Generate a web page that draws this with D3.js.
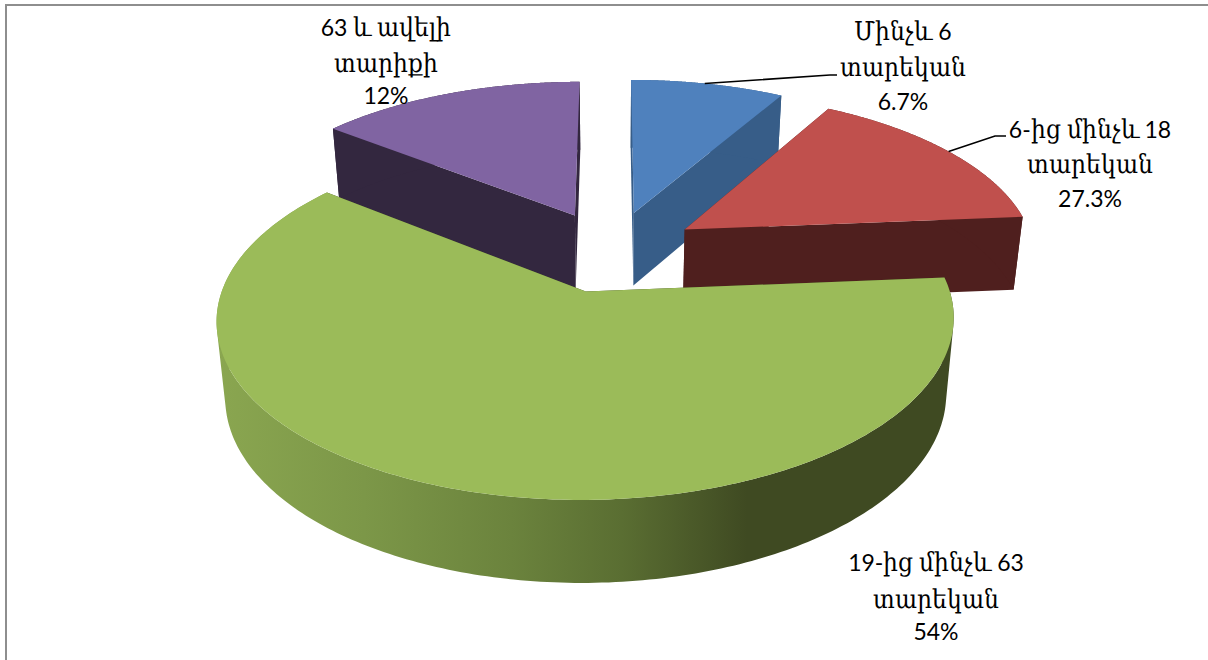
<!DOCTYPE html>
<html><head><meta charset="utf-8">
<script src="https://cdn.jsdelivr.net/npm/d3@7/dist/d3.min.js"></script>
<style>
@font-face{font-family:Arm;src:local("DejaVu Serif Condensed"),local("DejaVuSerifCondensed"),local("DejaVu Serif");unicode-range:U+0530-058F;size-adjust:112%}
html,body{margin:0;padding:0;background:#fff}svg{display:block}
text{font-family:Arm,"Lato","DejaVu Serif",serif;font-size:23px;fill:#000;text-anchor:middle}</style>
</head><body><svg id="c" width="1208" height="660"></svg>
<script>
const categories = ["Մինչև 6 տարեկան","6-ից մինչև 18 տարեկան","19-ից մինչև 63 տարեկան","63 և ավելի տարիքի"];
const labelLines = [["Մինչև 6","տարեկան","6.7%"],["6-ից մինչև 18","տարեկան","27.3%"],["19-ից մինչև 63","տարեկան","54%"],["63 և ավելի","տարիքի","12%"]];
// drawn slice shares (differ from the printed labels)
const drawnShares = [8.3,15.4,61.9,14.4];
const topColors = ["#4f81bd","#c0504d","#9bbb59","#8064a2"];
const wallColors = ["#375d88","#4f1f1e","#3f4a22","#33273f"];
const labelX = [903,1090,936,386];
const labelY = [[40,76,110],[138,173,207],[571,608,640],[36,72,104]];

const W=1208,H=660;
const svg=d3.select("#c");
const cx=612,cy=251,R=351,Ry=163.5,p=0.15,explode=0.25;
const kx=0.978,h0=74,h1=0.036;
const project=(X,Y)=>{const s=1/(1+p*Y);return [cx+R*X*s,cy-Ry*Y*s];};
const lower=([x,y])=>[cx+(x-cx)*kx,y+h0+h1*(y-250)];

const arcs=d3.pie().sort(null).value(d=>d)(drawnShares);
const line=d3.line();

const defs=svg.append("defs");
const g=defs.append("linearGradient").attr("id","greenSide").attr("gradientUnits","userSpaceOnUse")
  .attr("x1",217).attr("x2",953).attr("y1",0).attr("y2",0);
[[0,"#8aa650"],[0.2,"#7c9748"],[0.4,"#6b833d"],[0.55,"#5a6e32"],[0.72,"#3f4a22"],[1,"#3f4a22"]]
 .forEach(([o,c])=>g.append("stop").attr("offset",o).attr("stop-color",c));

// frame
svg.append("path").attr("d",line([[6,660],[6,5],[1208,5]])).attr("fill","none").attr("stroke","#8e8e8e").attr("stroke-width",2);

// every quad gets the same winding so the nonzero fill is their seamless union
const orientedQuad=(u,v)=>{
  const q=[u,v,lower(v),lower(u)];
  return line(d3.polygonArea(q)<0?q.reverse():q)+"Z";
};

// slices drawn back to front: blue, purple, red, green
[0,3,1,2].forEach(i=>{
  const a=arcs[i];
  const mid=(a.startAngle+a.endAngle)/2;
  const ox=explode*Math.sin(mid),oy=explode*Math.cos(mid);
  const pt=t=>project(ox+Math.sin(t),oy+Math.cos(t));
  const apex=project(ox,oy);
  const n=240;
  const rim=d3.range(n+1).map(j=>pt(a.startAngle+(a.endAngle-a.startAngle)*j/n));
  const layer=svg.append("g");
  const wall=wallColors[i];
  layer.append("path").attr("d",orientedQuad(apex,rim[0])).attr("fill",wall);
  layer.append("path").attr("d",orientedQuad(apex,rim[n])).attr("fill",wall);
  layer.append("path").attr("d",d3.pairs(rim).map(([u,v])=>orientedQuad(u,v)).join(""))
    .attr("fill",i===2?"url(#greenSide)":wall);
  layer.append("path").attr("d",line([apex,...rim])+"Z").attr("fill",topColors[i]);
});

// leader lines, anchored on the rim of their slice
const leader=(i,frac,knee,end)=>{
  const a=arcs[i];
  const mid=(a.startAngle+a.endAngle)/2;
  const t=a.startAngle+(a.endAngle-a.startAngle)*frac;
  const s=project(explode*Math.sin(mid)+Math.sin(t),explode*Math.cos(mid)+Math.cos(t));
  svg.append("path").attr("d",line([s,knee,end])).attr("fill","none").attr("stroke","#000").attr("stroke-width",1.6);
};
leader(0,0.48,[830,75],[837,75]);
leader(1,0.5,[995,136],[1006,136]);

// labels
labelLines.forEach((ls,i)=>ls.forEach((s,j)=>{
  svg.append("text").attr("x",labelX[i]).attr("y",labelY[i][j]).text(s);
}));
</script></body></html>
